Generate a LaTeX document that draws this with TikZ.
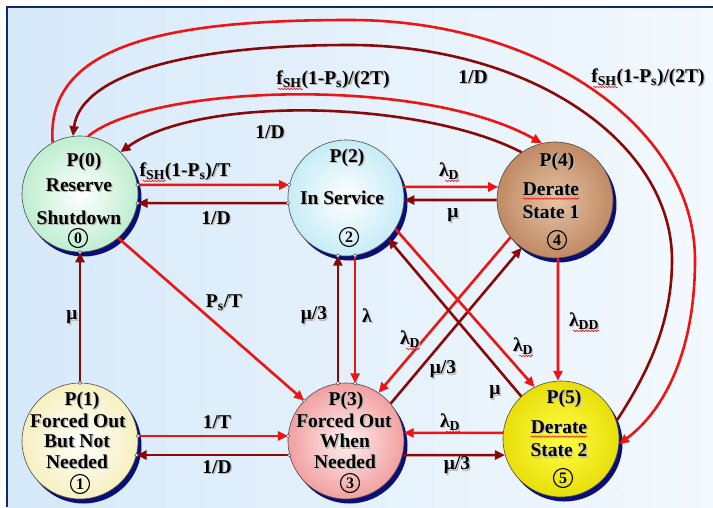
\documentclass[tikz,border=0pt]{standalone}
\usepackage{fontspec}
\setmainfont{Liberation Serif}
\usetikzlibrary{arrows.meta,shadows,decorations.pathmorphing,calc}

\definecolor{brred}{RGB}{238,20,20}
\definecolor{dkred}{RGB}{138,8,8}
\definecolor{navyshadow}{RGB}{10,14,118}
\definecolor{framenavy}{RGB}{22,42,100}
\definecolor{bgblue}{RGB}{214,233,249}
\definecolor{bgwhite}{RGB}{243,249,254}
\definecolor{mintout}{RGB}{190,238,208}
\definecolor{cyanout}{RGB}{198,236,247}
\definecolor{tanin}{RGB}{230,194,162}
\definecolor{tanout}{RGB}{192,138,100}
\definecolor{creamout}{RGB}{247,240,192}
\definecolor{pinkin}{RGB}{255,240,240}
\definecolor{pinkout}{RGB}{242,160,160}
\definecolor{yelin}{RGB}{255,255,70}
\definecolor{yelout}{RGB}{232,222,10}

\newcommand\shtx[1]{\makebox[0pt][l]{\hspace{1.3pt}\raisebox{-1.3pt}{\textcolor{black!28}{#1}}}#1}

\tikzset{
  state/.style={circle, draw=black!70, line width=0.6pt, minimum size=116pt, inner sep=0pt,
    general shadow={fill=navyshadow, shadow xshift=3.5pt, shadow yshift=-4.5pt}},
  txt/.style={font=\rmfamily\bfseries\fontsize{19.5}{22}\selectfont, inner sep=0pt},
  num/.style={circle, draw=black, line width=1.1pt, minimum size=19pt, inner sep=0pt,
    font=\rmfamily\bfseries\fontsize{16}{16}\selectfont},
  bright/.style={draw=brred, line width=2.6pt, -{Triangle[length=10pt,width=9pt]}},
  dark/.style={draw=dkred, line width=2.6pt, -{Triangle[length=10pt,width=9pt]}},
  cp/.style={fill=white, draw=black!70, line width=0.5pt},
  squig/.style={draw=red, line width=0.5pt, decorate, decoration={snake, amplitude=0.8pt, segment length=3pt}},
}

\begin{document}
\begin{tikzpicture}[x=1pt,y=-1pt]
\useasboundingbox (0,0) rectangle (713,507);
\fill[white] (0,0) rectangle (713,507);
\shade[left color=bgblue, right color=bgwhite] (7,7) rectangle (713,507);
\draw[framenavy, line width=2pt] (7,507) -- (7,7) -- (713,7);

% states
\node[state, inner color=white, outer color=mintout] (p0) at (80,194) {};
\node[state, inner color=white, outer color=creamout] (p1) at (80,441) {};
\node[state, inner color=white, outer color=cyanout] (p2) at (346,198) {};
\node[state, inner color=pinkin, outer color=pinkout] (p3) at (346,441) {};
\node[state, inner color=tanin, outer color=tanout] (p4) at (555,200) {};
\node[state, inner color=yelin, outer color=yelout] (p5) at (561,439) {};

% top arcs
\draw[bright] (p0.118) .. controls (45,40) and (180,20) .. (350,20)
  .. controls (540,20) and (695,127) .. (695,260)
  .. controls (695,350) and (665,410) .. (p5.-5);
\draw[dark] (p5.18) .. controls (650,370) and (672,320) .. (672,260)
  .. controls (672,141) and (528,45) .. (350,45)
  .. controls (170,45) and (80,80) .. (p0.97);
\draw[bright] (p0.82) .. controls (150,85) and (420,75) .. (p4.103);
\draw[dark] (p4.125) .. controls (420,100) and (200,95) .. (p0.46);

% straight connectors
\draw[bright] (p0.9) -- (p2.167);
\draw[dark] (p2.185) -- (p0.-9);
\draw[bright] (p2.11) -- (p4.167);
\draw[dark] (p4.180) -- (p2.-2);
\draw[dark] (p1.90) -- (p0.-90);
\draw[bright] (p0.-49) -- (p3.136);
\draw[bright] (p1.5) -- (p3.175);
\draw[dark] (p3.194) -- (p1.-14);
\draw[dark] (p3.98) -- (p2.-98);
\draw[bright] (p2.-81) -- (p3.81);
\draw[bright] (p4.220) -- (p3.56);
\draw[dark] (p3.40) -- (p4.235);
\draw[bright] (p2.-32) -- (p5.117);
\draw[dark] (p5.133) -- (p2.-44);
\draw[bright] (p4.-87) -- (p5.93);
\draw[bright] (p5.174) -- (p3.8);
\draw[dark] (p3.-14) -- (p5.196);

% connection points
\foreach \a in {p0.9,p0.-9,p0.-90,p2.167,p2.185,p2.-98,p2.-81,p1.90,p1.5,p1.-14,p3.175,p3.194,p3.136,p3.98,p3.81}
  \draw[cp] (\a) circle[radius=1.8pt];

% state texts
\node[txt] (t0a) at (84,162) {\shtx{P(0)}};
\node[txt] (t0b) at (79,186) {\shtx{Reserve}};
\node[txt] (t0c) at (79,218) {\shtx{Shutdown}};
\node[num] (n0) at (78,238) {0};

\node[txt] (t2a) at (347,158) {\shtx{P(2)}};
\node[txt] (t2b) at (342,198) {\shtx{In Service}};
\node[num] (n2) at (349,237) {2};

\node[txt] (t4a) at (557,162) {\shtx{P(4)}};
\node[txt] (t4b) at (551,190) {\shtx{Derate}};
\node[txt] (t4c) at (551,213) {\shtx{State 1}};
\node[num] (n4) at (557,240) {4};

\node[txt] (t1a) at (82,401) {\shtx{P(1)}};
\node[txt] (t1b) at (78,421) {\shtx{Forced Out}};
\node[txt] (t1c) at (77,442) {\shtx{But Not}};
\node[txt] (t1d) at (77,462) {\shtx{Needed}};
\node[num] (n1) at (80,484) {1};

\node[txt] (t3a) at (346,401) {\shtx{P(3)}};
\node[txt] (t3b) at (344,421) {\shtx{Forced Out}};
\node[txt] (t3c) at (345,442) {\shtx{When}};
\node[txt] (t3d) at (345,462) {\shtx{Needed}};
\node[num] (n3) at (350,483) {3};

\node[txt] (t5a) at (564,399) {\shtx{P(5)}};
\node[txt] (t5b) at (559,428) {\shtx{Derate}};
\node[txt] (t5c) at (559,451) {\shtx{State 2}};
\node[num] (n5) at (563,478) {5};

% connector labels
\node[txt] (l02) at (185,172) {\shtx{f\textsubscript{SH}(1-P\textsubscript{s})/T}};
\node[txt] (l20) at (216,219) {\shtx{1/D}};
\node[txt] (l24) at (449,172) {\shtx{λ\textsubscript{D}}};
\node[txt] (l42) at (453,216) {\shtx{μ}};
\node[txt] (l10) at (72,318) {\shtx{μ}};
\node[txt] (l03) at (224,303) {\shtx{P\textsubscript{s}/T}};
\node[txt] (l13) at (217,423) {\shtx{1/T}};
\node[txt] (l31) at (217,468) {\shtx{1/D}};
\node[txt] (l32) at (314,316) {\shtx{μ/3}};
\node[txt] (l23) at (367,316) {\shtx{λ}};
\node[txt] (l43) at (410,340) {\shtx{λ\textsubscript{D}}};
\node[txt] (l34) at (443,370) {\shtx{μ/3}};
\node[txt] (l25) at (523,347) {\shtx{λ\textsubscript{D}}};
\node[txt] (l52) at (495,393) {\shtx{μ}};
\node[txt] (l45) at (584,322) {\shtx{λ\textsubscript{DD}}};
\node[txt] (l53) at (450,423) {\shtx{λ\textsubscript{D}}};
\node[txt] (l35) at (457,466) {\shtx{μ/3}};
\node[txt] (l04) at (333,80) {\shtx{f\textsubscript{SH}(1-P\textsubscript{s})/(2T)}};
\node[txt] (l50) at (473,78) {\shtx{1/D}};
\node[txt] (l05) at (648,78) {\shtx{f\textsubscript{SH}(1-P\textsubscript{s})/(2T)}};
\node[txt] (l40) at (270,133) {\shtx{1/D}};

% spelling-check squiggles
\draw[squig] ($(t4b.base west)+(0,3)$) -- ($(t4b.base east)+(0,3)$);
\draw[squig] ($(t5b.base west)+(0,3)$) -- ($(t5b.base east)+(0,3)$);
\draw[squig] ($(l02.west)+(3,9)$) -- ($(l02.west)+(26,9)$);
\draw[squig] ($(l04.west)+(2,9)$) -- ($(l04.west)+(27,9)$);
\draw[squig] ($(l05.west)+(2,9)$) -- ($(l05.west)+(27,9)$);
\foreach \l in {l24,l43,l25,l53}
  \draw[squig] ($(\l.east)+(-14,9)$) -- ($(\l.east)+(0,9)$);
\draw[squig] ($(l45.east)+(-26,9)$) -- ($(l45.east)+(0,9)$);
\end{tikzpicture}
\end{document}
